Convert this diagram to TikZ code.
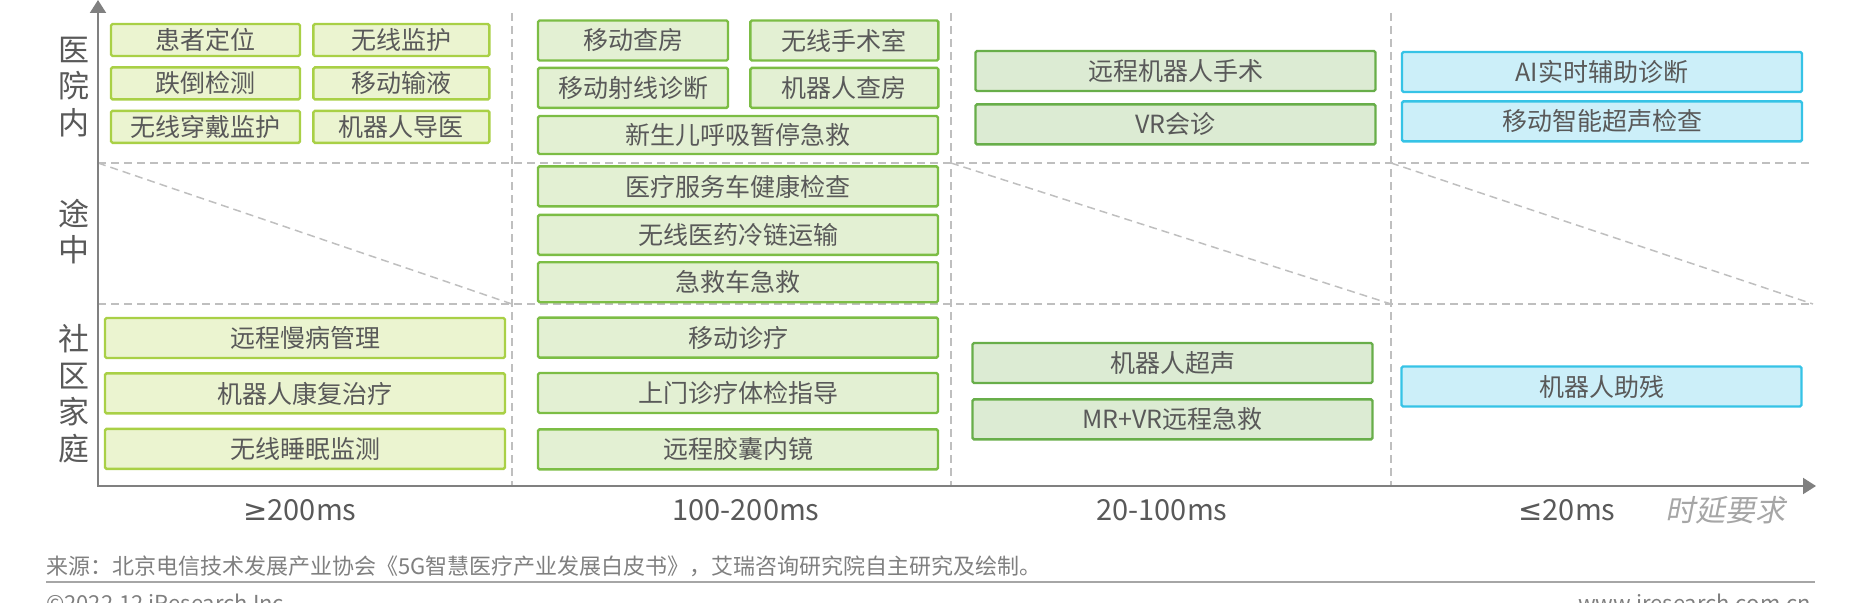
\documentclass[tikz,border=0pt]{standalone}
\usepackage{fontspec}
\setmainfont{Noto Sans CJK SC}
\newfontfamily\slantcjk[FakeSlant=0.2]{Noto Sans CJK SC}
\newfontfamily\mathsym{DejaVu Sans}
\usetikzlibrary{positioning, calc, arrows.meta}
\definecolor{txt}{HTML}{595959}
\definecolor{note}{HTML}{7F7F7F}
\definecolor{axisGray}{HTML}{808080}
\definecolor{gridGray}{HTML}{BFBFBF}
\definecolor{over200Fill}{HTML}{EBF4D0}
\definecolor{over200Line}{HTML}{A9D046}
\definecolor{upto200Fill}{HTML}{E3F0D3}
\definecolor{upto200Line}{HTML}{7CBD45}
\definecolor{upto100Fill}{HTML}{DCEBD3}
\definecolor{upto100Line}{HTML}{68AE4A}
\definecolor{upto20Fill}{HTML}{CCEFF9}
\definecolor{upto20Line}{HTML}{36C3E6}
\tikzset{%
  cell/.style = {draw, rounded corners=1.5pt, line width=2.4pt, inner sep=0pt,
                 text=txt, font=\fontsize{25}{28}\selectfont},
  over200/.style = {cell, fill=over200Fill, draw=over200Line},
  upto200/.style = {cell, fill=upto200Fill, draw=upto200Line},
  upto100/.style = {cell, fill=upto100Fill, draw=upto100Line},
  upto20/.style  = {cell, fill=upto20Fill, draw=upto20Line},
  dims/.style 2 args = {minimum width=#1, minimum height=#2},
  wide/.style = {dims={400pt}{40pt}},
  place/.style = {text=txt, align=center, font=\fontsize{31}{36.5}\selectfont},
  latency/.style = {text=txt, font=\fontsize{29}{32}\selectfont},
  footer/.style = {text=note, inner sep=0pt, font=\fontsize{22}{24}\selectfont},
  axisLine/.style = {draw=axisGray, line width=2pt},
  gridLine/.style = {draw=gridGray, line width=1.5pt, dash pattern=on 8pt off 5pt}
  }

\begin{document}
\begin{tikzpicture}[x=1pt, y=-1pt, >={Triangle[length=13pt, width=16pt]}]
    \useasboundingbox (0,0) rectangle (1859,602);

    % grid
    \coordinate (origin) at (98,486);
    \coordinate (ytip)   at (98,0);
    \coordinate (xtip)   at (1816,486);
    \coordinate (v1)  at (512,13);   \coordinate (v1b) at (512,486);
    \coordinate (v2)  at (951,13);   \coordinate (v2b) at (951,486);
    \coordinate (v3)  at (1391,13);  \coordinate (v3b) at (1391,486);
    \coordinate (h1)  at (98,163);   \coordinate (h1e) at (1813,163);
    \coordinate (h2)  at (98,304);   \coordinate (h2e) at (1813,304);

    \path[gridLine] (v1) -- (v1b)  (v2) -- (v2b)  (v3) -- (v3b)
                    (h1) -- (h1e)  (h2) -- (h2e);
    \path[gridLine] (h1) -- (v1 |- h2)
                    (v2 |- h1) -- (v3 |- h2)
                    (v3 |- h1) -- (h2e);
    \path[axisLine, <->] (ytip) -- (origin) -- (xtip);

    % >=200ms
    \node (locate)   [over200, dims={189pt}{32pt}] at (205.5,40) {患者定位};
    \node (fall)     [over200, dims={189pt}{32pt}, below=9pt of locate] {跌倒检测};
    \node (wear)     [over200, dims={189pt}{32pt}, below=9pt of fall]   {无线穿戴监护};
    \node (wmon)     [over200, dims={176pt}{32pt}, right=11pt of locate] {无线监护};
    \node (infuse)   [over200, dims={176pt}{32pt}, below=9pt of wmon]   {移动输液};
    \node (guide)    [over200, dims={176pt}{32pt}, below=9pt of infuse] {机器人导医};
    \node (chronic)  [over200, wide] at (305,338)          {远程慢病管理};
    \node (rehab)    [over200, wide, below=13pt of chronic] {机器人康复治疗};
    \node (sleep)    [over200, wide, below=13pt of rehab]   {无线睡眠监测};

    % 100-200ms
    \node (rounds)   [upto200, dims={190pt}{40pt}] at (633,40.5) {移动查房};
    \node (xray)     [upto200, dims={190pt}{40pt}, below=5pt of rounds] {移动射线诊断};
    \node (theatre)  [upto200, dims={188pt}{40pt}, right=20pt of rounds] {无线手术室};
    \node (robround) [upto200, dims={188pt}{40pt}, below=5pt of theatre] {机器人查房};
    \node (apnea)    [upto200, dims={400pt}{38pt}] at (738,135) {新生儿呼吸暂停急救};
    \node (vanCheck) [upto200, wide, below=10pt of apnea]    {医疗服务车健康检查};
    \node (coldChain)[upto200, wide, below=6pt of vanCheck]  {无线医药冷链运输};
    \node (ambulance)[upto200, wide, below=5pt of coldChain] {急救车急救};
    \node (mobClinic)[upto200, wide, below=13pt of ambulance] {移动诊疗};
    \node (homeVisit)[upto200, wide, below=13pt of mobClinic] {上门诊疗体检指导};
    \node (capsule)  [upto200, wide, below=14pt of homeVisit] {远程胶囊内镜};

    % 20-100ms
    \node (surgery)  [upto100, wide] at (1175.5,71)       {远程机器人手术};
    \node (vrConsult)[upto100, wide, below=11pt of surgery] {VR会诊};
    \node (robSono)  [upto100, wide] at (1172.5,363)      {机器人超声};
    \node (mrvr)     [upto100, wide, below=14pt of robSono] {MR+VR远程急救};

    % <=20ms
    \node (aiDiag)   [upto20, wide] at (1602,72)         {AI实时辅助诊断};
    \node (smartSono)[upto20, wide, below=7pt of aiDiag] {移动智能超声检查};
    \node (assist)   [upto20, wide] at (1601.5,386.5)   {机器人助残};

    % axis labels
    \node (inHosp)  [place] at (74,87)    {医\\院\\内};
    \node (enRoute) [place] at (74,231.5) {途\\中};
    \node (home)    [place] at (74,393.5) {社\\区\\家\\庭};
    \node (l1) [latency] at (300,510)  {{\mathsym ≥}200ms};
    \node (l2) [latency] at (746,510)  {100-200ms};
    \node (l3) [latency] at (1162,510) {20-100ms};
    \node (l4) [latency] at (1567,510) {{\mathsym ≤}20ms};
    \node (xname) [text=gray!70, font=\slantcjk\fontsize{30}{34}\selectfont] at (1725,510) {时延要求};

    % footer
    \node (source) [footer, anchor=base west] at (46,574)
        {来源：北京电信技术发展产业协会《5G智慧医疗产业发展白皮书》，艾瑞咨询研究院自主研究及绘制。};
    \coordinate (rule1) at (46,582);
    \coordinate (rule2) at (1815,582);
    \path[draw=gray!70, line width=2.5pt] (rule1) -- (rule2);
    \node (copy) [footer, anchor=base west] at (46,611) {©2022.12 iResearch Inc.};
    \node (web)  [footer, anchor=base east] at (1811,611) {www.iresearch.com.cn};
\end{tikzpicture}
\end{document}
